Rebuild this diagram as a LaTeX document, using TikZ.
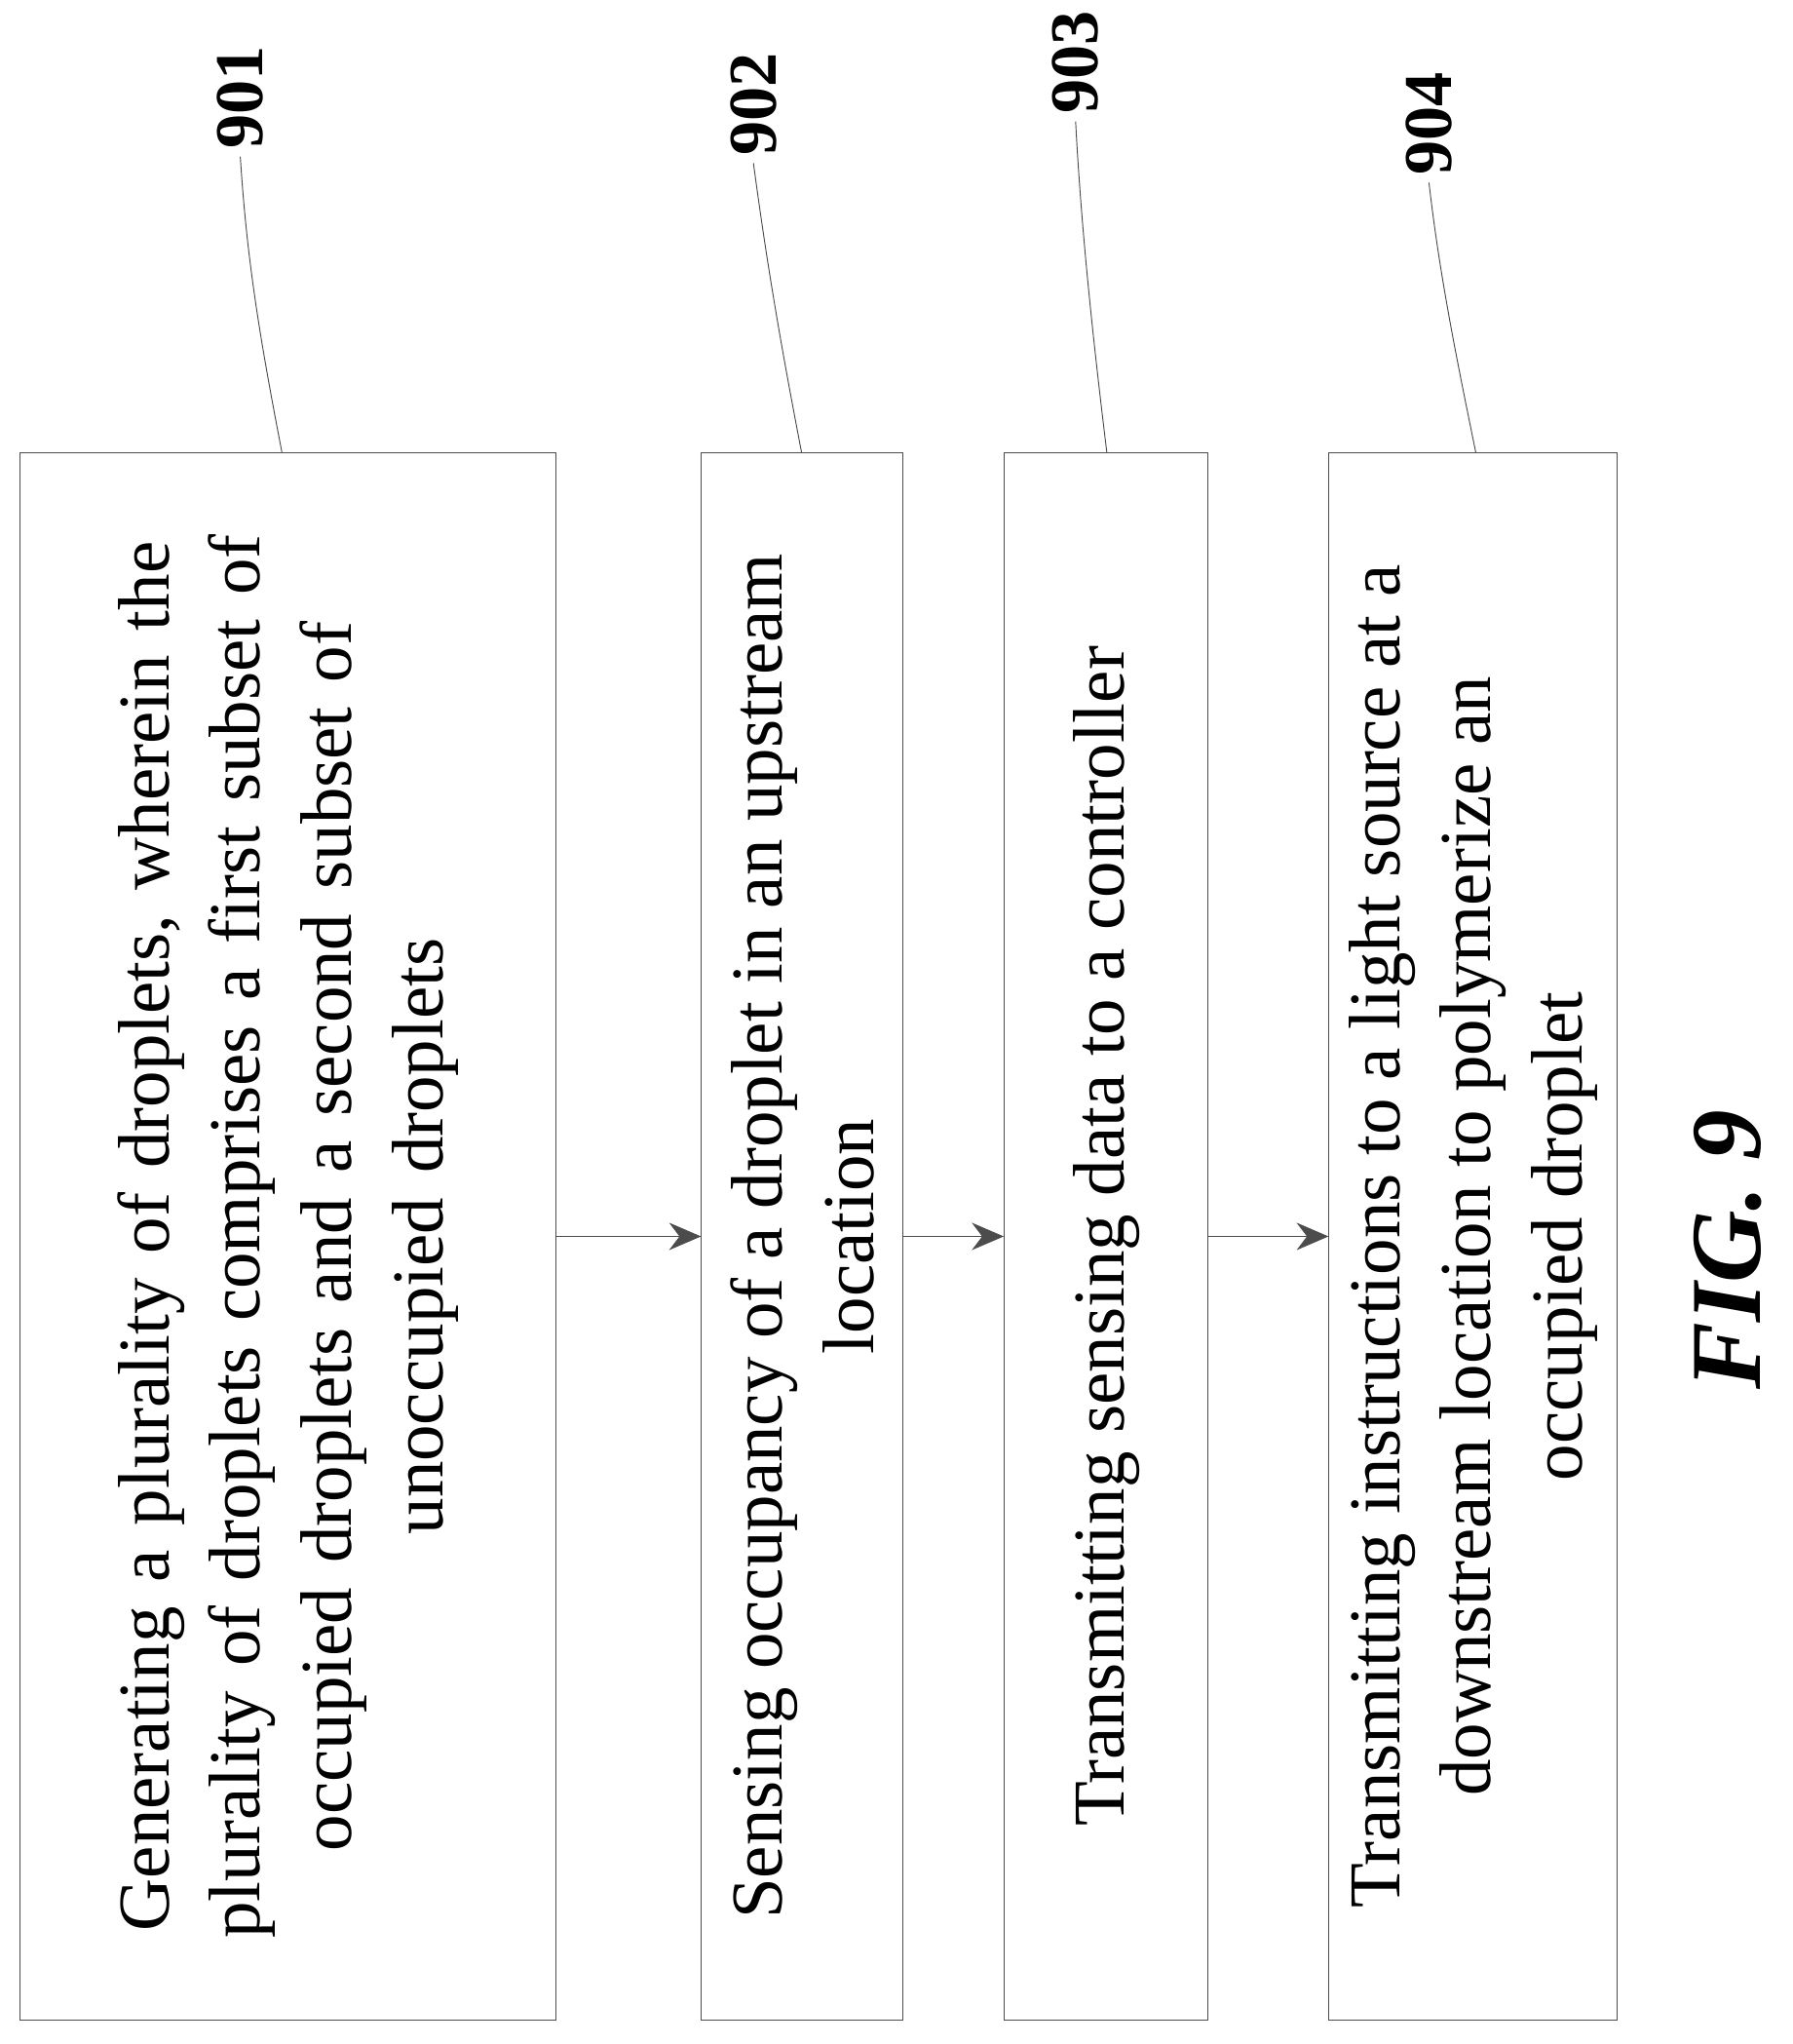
\documentclass[tikz,border=0pt]{standalone}
\usepackage{fontspec}
\setmainfont{Liberation Serif}
\usepackage{tikz}
\usetikzlibrary{arrows.meta}
\begin{document}
\begin{tikzpicture}
		[x=0.02cm,y=-0.02cm,line cap=round,
		%Styles
		step box/.style={draw=black!70,thin,rotate=90,inner sep=0pt,align=center,
			font=\fontsize{32}{40}\selectfont},
		ref label/.style={rotate=90,font=\fontsize{30}{30}\selectfont\bfseries},
		leader/.style={black!70,thin},
		flow/.style={-{Stealth[length=14pt,width=12pt]},black!70,thin}
		]
		\useasboundingbox (0,0) rectangle (1380,1573);
		
		%The graphic
		\node[step box,text width=23cm,minimum width=24.14cm,minimum height=8.26cm] (S1) at (221.5,951.5)
			{Generating\ a\ plurality\ of droplets,\ wherein\ the\\
			 plurality of droplets comprises\ a first subset of\\
			 occupied droplets and a second subset of\\
			 unoccupied droplets};
		\node[step box,minimum width=24.14cm,minimum height=3.1cm] (S2) at (617.5,951.5)
			{Sensing occupancy\ of a droplet in an upstream\\ location};
		\node[step box,minimum width=24.14cm,minimum height=3.14cm] (S3) at (851.5,951.5)
			{Transmitting sensing data to a controller};
		\node[step box,minimum width=24.14cm,minimum height=4.44cm] (S4) at (1134,951.5)
			{Transmitting\ instructions to a light source at a\\
			 downstream location to polymerize an\\ occupied droplet};
		
		\draw[flow] (S1.south) -- (S2.north);
		\draw[flow] (S2.south) -- (S3.north);
		\draw[flow] (S3.south) -- (S4.north);
		
		%Reference numerals
		\node[ref label] (L1) at (185,75) {901};
		\node[ref label] (L2) at (580,80) {902};
		\node[ref label] (L3) at (828,48) {903};
		\node[ref label] (L4) at (1100,95) {904};
		\coordinate (C1) at (217,348);
		\coordinate (C2) at (617,348);
		\coordinate (C3) at (852,348);
		\coordinate (C4) at (1136,348);
		\draw[leader] (C1) .. controls (200,260) and (190,200) .. (L1.west);
		\draw[leader] (C2) .. controls (600,260) and (590,200) .. (L2.west);
		\draw[leader] (C3) .. controls (840,250) and (832,170) .. (L3.west);
		\draw[leader] (C4) .. controls (1120,270) and (1108,210) .. (L4.west);
		
		\node[rotate=90,font=\fontsize{44}{44}\selectfont\bfseries\itshape] (Fig) at (1330,962) {FIG. 9};
	\end{tikzpicture}
\end{document}
